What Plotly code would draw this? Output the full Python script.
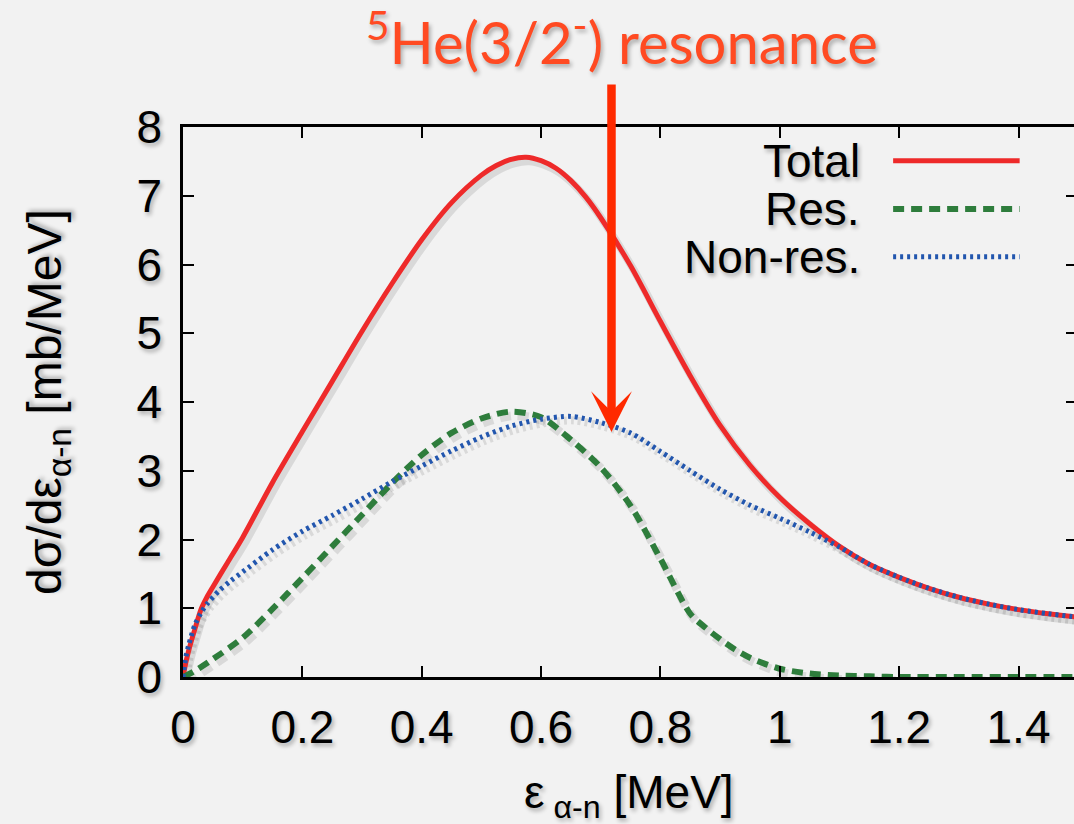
import plotly.graph_objects as go

# ---------------- data ----------------
x_total = [0, 0.005, 0.01, 0.02, 0.03, 0.04, 0.05, 0.075, 0.1, 0.15, 0.2, 0.25, 0.3, 0.35,
           0.4, 0.45, 0.5, 0.525, 0.55, 0.575, 0.6, 0.625, 0.65, 0.675, 0.7, 0.75, 0.8, 0.85,
           0.9, 0.95, 1.0, 1.05, 1.1, 1.15, 1.2, 1.25, 1.3, 1.35, 1.4, 1.45, 1.5]
y_total = [0, 0.22, 0.40, 0.70, 0.98, 1.16, 1.31, 1.67, 2.03, 2.83, 3.57, 4.30, 5.03, 5.72,
           6.36, 6.90, 7.30, 7.44, 7.53, 7.56, 7.51, 7.40, 7.22, 6.98, 6.68, 5.98, 5.17, 4.38,
           3.66, 3.08, 2.61, 2.23, 1.90, 1.64, 1.45, 1.29, 1.16, 1.06, 0.98, 0.92, 0.87]

x_res = [0, 0.02, 0.05, 0.1, 0.15, 0.2, 0.25, 0.3, 0.35, 0.4, 0.45, 0.5, 0.55, 0.6, 0.65,
         0.7, 0.75, 0.8, 0.85, 0.875, 0.9, 0.925, 0.95, 1.0, 1.05, 1.1, 1.15, 1.2, 1.3, 1.4, 1.5]
y_res = [0, 0.09, 0.26, 0.57, 0.99, 1.44, 1.90, 2.36, 2.82, 3.23, 3.55, 3.76, 3.86, 3.78, 3.45,
         3.05, 2.49, 1.72, 0.92, 0.72, 0.55, 0.40, 0.28, 0.12, 0.05, 0.02, 0.01, 0, 0, 0, 0]

x_nonres = [0, 0.005, 0.01, 0.02, 0.03, 0.04, 0.06, 0.08, 0.1, 0.15, 0.2, 0.25, 0.3, 0.35,
            0.4, 0.45, 0.5, 0.55, 0.6, 0.65, 0.7, 0.75, 0.8, 0.85, 0.9, 0.95, 1.0, 1.05,
            1.1, 1.15, 1.2, 1.25, 1.3, 1.35, 1.4, 1.45, 1.5]
y_nonres = [0, 0.3, 0.48, 0.76, 0.93, 1.06, 1.25, 1.40, 1.53, 1.85, 2.12, 2.35, 2.59, 2.84,
            3.07, 3.29, 3.49, 3.65, 3.75, 3.79, 3.70, 3.55, 3.28, 3.00, 2.73, 2.50, 2.31, 2.11,
            1.89, 1.64, 1.45, 1.29, 1.16, 1.06, 0.98, 0.92, 0.87]

series_names = ["Total", "Res.", "Non-res."]
x_tickvals = [0, 0.2, 0.4, 0.6, 0.8, 1.0, 1.2, 1.4]
x_ticktext = ["0", "0.2", "0.4", "0.6", "0.8", "1", "1.2", "1.4"]
y_tickvals = [0, 1, 2, 3, 4, 5, 6, 7, 8]

# ---------------- styles ----------------
RED = "#EE2A2A"
GREEN = "#2E7D3C"
BLUE = "#2256AE"
ARROW = "#FF2A00"
TITLE = "#FF4A22"
BG = "#F2F2F2"
FONT = "Liberation Sans, Arial, sans-serif"
SHADOW = "2px 3px 4px rgba(0,0,0,0.30)"

colors = [RED, GREEN, BLUE]
widths = [5, 6, 5]
dashes = ["solid", "11px,7px", "3px,4px"]

W, H = 1074, 824
ML, MT, MB = 183, 127, 147
PW, PH = W - ML, H - MT - MB
XMAX = 1.493
YMAX = 8.0
# drop-shadow offset (pixels) converted into an axis range shift
SDX, SDY = 3, 4
sx = SDX * XMAX / PW
sy = SDY * YMAX / PH

fig = go.Figure()
# shadows (base axes x / y, drawn underneath)
for xs, ys, w, d in zip([x_total, x_res, x_nonres], [y_total, y_res, y_nonres], widths, dashes):
    fig.add_trace(go.Scatter(x=xs, y=ys, mode="lines", xaxis="x", yaxis="y", hoverinfo="skip",
                             line=dict(color="rgba(0,0,0,0.10)", width=w + 3, dash=d,
                                       shape="spline", smoothing=0.8),
                             showlegend=False))
# main curves (visible axes x2 / y2)
for xs, ys, name, c, w, d in zip([x_total, x_res, x_nonres], [y_total, y_res, y_nonres],
                                 series_names, colors, widths, dashes):
    fig.add_trace(go.Scatter(x=xs, y=ys, mode="lines", name=name, xaxis="x2", yaxis="y2",
                             line=dict(color=c, width=w, dash=d, shape="spline", smoothing=0.8),
                             showlegend=False))
# empty trace to carry the right-hand mirrored tick axis
fig.add_trace(go.Scatter(x=[], y=[], xaxis="x2", yaxis="y3", showlegend=False))

tickfont = dict(family=FONT, size=46, color="black", shadow=SHADOW)
fig.update_layout(
    width=W, height=H, autosize=False,
    margin=dict(l=ML, r=0, t=MT, b=MB, pad=0),
    paper_bgcolor=BG, plot_bgcolor=BG,
    font=dict(family=FONT, size=46, color="black"),
    xaxis=dict(range=[-sx, XMAX - sx], visible=False, showgrid=False, zeroline=False),
    yaxis=dict(range=[sy, YMAX + sy], visible=False, showgrid=False, zeroline=False),
    xaxis2=dict(range=[0, XMAX], overlaying="x", anchor="y2", side="bottom",
                tickvals=x_tickvals, ticktext=x_ticktext,
                ticks="inside", ticklen=11, tickwidth=2, tickcolor="black",
                showline=True, linewidth=2.5, linecolor="black", mirror="ticks",
                showgrid=False, zeroline=False, ticklabelstandoff=8, tickfont=tickfont),
    yaxis2=dict(range=[0, YMAX], overlaying="y", anchor="x2", side="left", tickvals=y_tickvals,
                ticks="inside", ticklen=11, tickwidth=2, tickcolor="black",
                showline=True, linewidth=2.5, linecolor="black", mirror=False,
                showgrid=False, zeroline=False, ticklabelstandoff=9, tickfont=tickfont),
    yaxis3=dict(range=[0, YMAX], overlaying="y", anchor="x2", side="right", tickvals=y_tickvals,
                ticks="inside", ticklen=8, tickwidth=2, tickcolor="black",
                showline=False, showgrid=False, zeroline=False, showticklabels=False),
)

annotations = []
# title text
annotations.append(dict(text="<sup>5</sup>He(3/2<sup>-</sup>) resonance", xref="paper", yref="paper",
                        x=0.493, y=1.162, xanchor="center", yanchor="middle", showarrow=False,
                        font=dict(family="Lato, sans-serif", size=58, color=TITLE, shadow=SHADOW)))
# arrow
annotations.append(dict(text="", x=0.718, y=3.564, xref="x2", yref="y2", axref="pixel", ayref="pixel",
                        ax=0, ay=-349, showarrow=True, arrowhead=3, arrowwidth=8.5, arrowsize=0.8,
                        arrowcolor=ARROW))
# y title
annotations.append(dict(text="dσ/dε<sub>α-n</sub> [mb/MeV]", xref="paper", yref="paper",
                        x=-0.1515, y=0.5, xanchor="center", yanchor="middle", textangle=-90,
                        showarrow=False, font=dict(family=FONT, size=48, color="black", shadow=SHADOW)))
# x title
annotations.append(dict(text="ε<sub> α-n</sub> [MeV]", xref="paper", yref="paper",
                        x=0.5, y=-0.158, xanchor="center", yanchor="top",
                        showarrow=False, font=dict(family=FONT, size=46, color="black", shadow=SHADOW)))

# legend (text left, sample right)
leg_y = [0.9387, 0.851, 0.764]
shapes = []
for name, c, w, d, yy in zip(series_names, colors, widths, dashes, leg_y):
    annotations.append(dict(text=name, xref="paper", yref="paper", x=0.762, y=yy,
                            xanchor="right", yanchor="middle", showarrow=False,
                            font=dict(family=FONT, size=46, color="black", shadow=SHADOW)))
    shapes.append(dict(type="line", xref="paper", yref="paper", x0=0.797, x1=0.939, y0=yy, y1=yy,
                       line=dict(color=c, width=w, dash=d)))

fig.update_layout(annotations=annotations, shapes=shapes)
fig.write_html("out.html", config={"displayModeBar": False},
               post_script="document.body.style.margin='0px';")
